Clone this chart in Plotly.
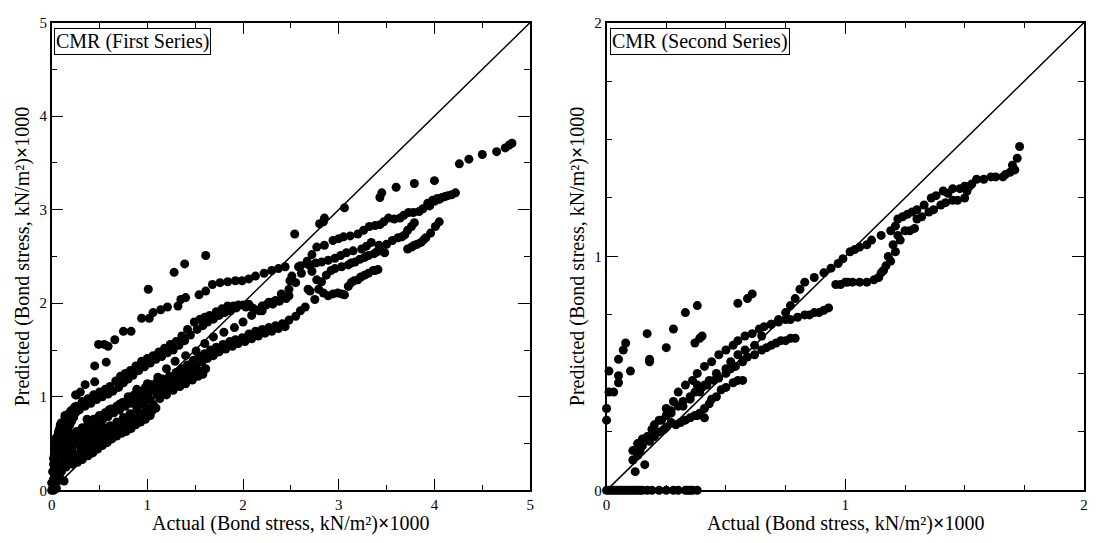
import plotly.graph_objects as go

# ---------------- Data: CMR (First Series) ----------------
s1_origin_x = [0.00,0.01,0.02,0.00,0.02,0.03,0.01,0.04,0.02,0.05,0.03,0.06,0.04,0.07,0.05,0.08,0.06,0.10,0.08,0.12,0.10,0.14,0.02,0.05,0.06,0.08,0.10,0.09,0.12,0.14,0.16,0.13,0.04,0.07,0.03,0.09,0.11]
s1_origin_y = [0.00,0.02,0.05,0.08,0.12,0.16,0.20,0.24,0.28,0.30,0.35,0.38,0.42,0.45,0.50,0.52,0.58,0.60,0.65,0.68,0.72,0.78,0.00,0.02,0.10,0.15,0.20,0.26,0.30,0.36,0.40,0.10,0.55,0.62,0.45,0.70,0.50]
s1_origin2_x = [0.02,0.04,0.06,0.08,0.10,0.12,0.14,0.16,0.18,0.20,0.22,0.24,0.03,0.05,0.07,0.09,0.11,0.13,0.15,0.17,0.19,0.21,0.23,0.25,0.28,0.31,0.34]
s1_origin2_y = [0.34,0.40,0.47,0.55,0.62,0.68,0.74,0.77,0.80,0.84,0.86,0.89,0.25,0.33,0.39,0.44,0.51,0.56,0.60,0.65,0.70,0.74,0.78,0.83,0.87,0.92,0.94]

s1_top_x = [0.05,0.10,0.14,0.18,0.25,0.26,0.30,0.35,0.37,0.44,0.45,0.45,0.49,0.49,0.55,0.57,0.59,0.66,0.75,0.83,0.94,1.01,1.02,1.06,1.14,1.21,1.28,1.32,1.35,1.39,1.40,1.54,1.61,1.61,1.68,1.76,1.84,1.92,1.99,2.06,2.13,2.22,2.30,2.37,2.44,2.54,2.80,2.84,2.85,3.06,3.43,3.45,3.60,3.79,4.00,4.26,4.36,4.50,4.65,4.74,4.78,4.81]
s1_top_y = [0.55,0.70,0.80,0.82,1.02,1.02,1.05,1.13,0.76,1.02,1.16,1.33,1.56,0.78,1.56,1.37,1.54,1.61,1.70,1.70,1.84,2.15,1.84,1.90,1.93,1.96,2.33,1.97,2.04,2.42,2.06,2.09,2.13,2.51,2.20,2.22,2.23,2.24,2.24,2.26,2.29,2.32,2.35,2.37,2.39,2.74,2.85,2.87,2.91,3.02,3.13,3.18,3.24,3.28,3.31,3.49,3.54,3.59,3.62,3.66,3.69,3.71]

s1_low1_x = [0.10,0.15,0.20,0.25,0.30,0.35,0.40,0.45,0.50,0.55,0.60,0.65,0.70,0.75,0.80,0.85,0.90,0.95,1.00,1.05,1.09,0.12,0.18,0.24,0.30,0.36,0.42,0.48,0.54]
s1_low1_y = [0.20,0.25,0.30,0.33,0.36,0.39,0.43,0.46,0.50,0.54,0.58,0.61,0.64,0.66,0.69,0.72,0.76,0.79,0.82,0.85,0.88,0.30,0.34,0.38,0.41,0.45,0.49,0.53,0.57]
s1_low1b_x = [0.22,0.27,0.32,0.38,0.43,0.48,0.53,0.58,0.63,0.68,0.73,0.78,0.83,0.88,0.93,0.98,1.03]
s1_low1b_y = [0.28,0.30,0.33,0.37,0.40,0.44,0.48,0.51,0.55,0.58,0.61,0.63,0.66,0.70,0.73,0.76,0.80]

s1_low2_x = [0.12,0.18,0.25,0.33,0.40,0.47,0.54,0.61,0.68,0.75,0.82,0.89,0.96,1.03,1.10,1.17,1.24,1.31,1.37,1.44,1.51,1.56,1.61]
s1_low2_y = [0.45,0.48,0.52,0.56,0.60,0.64,0.67,0.69,0.73,0.78,0.82,0.87,0.92,0.97,1.02,1.06,1.10,1.15,1.18,1.21,1.25,1.27,1.30]
s1_low2b_x = [0.15,0.21,0.29,0.36,0.43,0.50,0.57,0.64,0.71,0.78,0.85,0.92,0.99,1.06,1.13,1.20,1.27,1.34,1.40,1.47,1.53,1.58]
s1_low2b_y = [0.40,0.44,0.48,0.52,0.56,0.60,0.63,0.66,0.70,0.74,0.78,0.83,0.88,0.92,0.98,1.02,1.07,1.11,1.14,1.18,1.22,1.24]

s1_mid3_x = [0.10,0.14,0.16,0.20,0.26,0.32,0.38,0.44,0.50,0.56,0.61,0.67,0.72,0.77,0.82,0.88,0.94,1.00,1.06,1.12,1.18,1.24,1.30,1.36,1.42,1.49,1.55,1.60,1.65,1.72,1.78,1.84,1.90,1.95,2.00,2.06,2.13,2.20,2.27,2.34,2.41,2.48]
s1_mid3_y = [0.62,0.72,0.80,0.85,0.90,0.95,0.98,1.02,1.05,1.08,1.11,1.17,1.22,1.25,1.28,1.33,1.38,1.41,1.44,1.48,1.52,1.56,1.59,1.65,1.72,1.80,1.83,1.85,1.87,1.91,1.94,1.97,1.97,1.98,1.98,1.99,1.93,1.97,2.01,2.03,2.06,2.08]
s1_mid3b_x = [0.13,0.18,0.23,0.29,0.35,0.41,0.47,0.53,0.59,0.64,0.70,0.75,0.80,0.85,0.91,0.97,1.03,1.09,1.15,1.21,1.27,1.33,1.39,1.45,1.52,1.58,1.63,1.69,1.75,1.81,1.87,1.93,2.03,2.10,2.17,2.24,2.31,2.38,2.45]
s1_mid3b_y = [0.66,0.78,0.82,0.86,0.90,0.93,0.97,1.00,1.03,1.06,1.10,1.15,1.19,1.23,1.28,1.32,1.36,1.40,1.43,1.47,1.50,1.55,1.60,1.66,1.72,1.76,1.80,1.83,1.87,1.90,1.92,1.95,1.96,1.95,1.92,1.98,1.99,2.02,2.05]

s1_mid4_x = [0.16,0.22,0.26,0.32,0.38,0.44,0.50,0.56,0.62,0.68,0.74,0.80,0.86,0.92,0.98,1.04,1.10,1.16,1.23,1.30,1.36,1.42,1.48,1.54,1.60,1.66,1.72,1.79,1.86,1.92,1.99,2.06,2.13,2.20,2.27,2.34,2.41,2.48]
s1_mid4_y = [0.56,0.60,0.63,0.67,0.72,0.76,0.80,0.83,0.87,0.90,0.94,0.98,1.02,1.06,1.10,1.13,1.16,1.19,1.22,1.26,1.30,1.34,1.39,1.43,1.46,1.50,1.53,1.56,1.59,1.61,1.63,1.67,1.70,1.72,1.74,1.76,1.78,1.82]
s1_mid4b_x = [0.19,0.24,0.29,0.35,0.41,0.47,0.53,0.59,0.65,0.71,0.77,0.83,0.89,0.95,1.01,1.07,1.13,1.19,1.26,1.33,1.39,1.45,1.51,1.57,1.63,1.69,1.75,1.82,1.89,1.95,2.02,2.09,2.16,2.23,2.30,2.37,2.44]
s1_mid4b_y = [0.52,0.56,0.60,0.63,0.67,0.71,0.75,0.79,0.83,0.86,0.90,0.93,0.96,1.00,1.04,1.07,1.11,1.14,1.18,1.21,1.25,1.29,1.33,1.37,1.41,1.44,1.48,1.51,1.54,1.57,1.59,1.62,1.65,1.68,1.70,1.73,1.75]

s1_mid5_x = [0.40,0.51,0.60,0.71,0.80,0.89,1.00,1.11,1.20,1.29,1.40,1.51,1.60,1.69,1.80,1.91,2.00,2.09,2.20,2.31,2.40,2.49,2.60]
s1_mid5_y = [0.70,0.79,0.86,0.92,1.00,1.08,1.14,1.21,1.30,1.38,1.44,1.49,1.57,1.64,1.69,1.74,1.80,1.87,1.92,2.01,2.10,2.24,2.40]

s1_r2_x = [2.48,2.51,2.58,2.67,2.72,2.77,2.94,3.05,3.20,3.32,3.43,3.52,3.64,3.73,3.84,3.88,3.93,3.98,4.03,4.08,4.14,4.22]
s1_r2_y = [2.15,2.29,2.39,2.45,2.52,2.60,2.67,2.71,2.74,2.82,2.84,2.91,2.91,2.97,2.98,3.01,3.07,3.10,3.12,3.13,3.15,3.18]
s1_r2b_x = [2.85,3.00,3.12,3.26,3.38,3.47,3.58,3.68,3.78,3.95,4.00,4.05,4.11,4.18]
s1_r2b_y = [2.62,2.69,2.72,2.78,2.83,2.87,2.90,2.94,2.97,3.04,3.09,3.11,3.14,3.16]

s1_r3_x = [2.55,2.61,2.67,2.82,2.96,3.08,3.24,3.34,3.50,3.62,3.69,3.76,3.79]
s1_r3_y = [2.22,2.32,2.42,2.44,2.48,2.54,2.58,2.65,2.63,2.70,2.73,2.82,2.86]
s1_r3b_x = [2.70,2.76,2.89,3.02,3.15,3.29,3.42,3.56,3.66,3.72]
s1_r3b_y = [2.40,2.43,2.46,2.51,2.56,2.61,2.62,2.67,2.71,2.78]

s1_r4_x = [2.68,2.72,2.77,2.82,2.87,2.96,3.10,3.17,3.27,3.37,3.44,3.48,2.92,3.03,3.13,3.22,3.31,3.40]
s1_r4_y = [2.15,2.34,2.25,2.23,2.30,2.37,2.41,2.44,2.49,2.53,2.56,2.54,2.35,2.39,2.43,2.47,2.51,2.55]

s1_r5_x = [3.72,3.76,3.79,3.82,3.86,3.89,3.91,3.96,4.01,4.05]
s1_r5_y = [2.58,2.60,2.62,2.63,2.65,2.68,2.70,2.75,2.82,2.87]

s1_r6_x = [2.55,2.65,2.70,2.75,2.79,2.89,2.99,3.06,3.13,3.20,3.27,3.36,3.41,2.60,2.84,2.94,3.03,3.10,3.16,3.23,3.31,3.38]
s1_r6_y = [1.86,1.96,2.13,2.04,2.15,2.08,2.11,2.09,2.22,2.25,2.30,2.35,2.36,1.92,2.11,2.10,2.10,2.18,2.24,2.28,2.32,2.35]

# ---------------- Data: CMR (Second Series) ----------------
s2_zero_x = [0.00,0.01,0.02,0.03,0.04,0.05,0.06,0.07,0.08,0.09,0.10,0.11,0.12,0.13,0.14,0.15,0.17,0.19,0.22,0.25,0.28,0.30,0.33,0.34,0.35,0.36,0.38]
s2_zero_y = [0.00,0.00,0.00,0.00,0.00,0.00,0.00,0.00,0.00,0.00,0.00,0.00,0.00,0.00,0.00,0.00,0.00,0.00,0.00,0.00,0.00,0.00,0.00,0.00,0.00,0.00,0.00]

s2_sparse_x = [0.00,0.00,0.01,0.03,0.01,0.05,0.05,0.05,0.07,0.08,0.10,0.18,0.18,0.17,0.25,0.28,0.33,0.38,0.37,0.39,0.40,0.38,0.55,0.59,0.61]
s2_sparse_y = [0.30,0.35,0.42,0.42,0.51,0.46,0.49,0.56,0.60,0.63,0.51,0.55,0.56,0.67,0.61,0.69,0.76,0.79,0.63,0.65,0.66,0.45,0.80,0.82,0.84]

s2_b1_x = [0.11,0.15,0.23,0.32,0.39,0.43,0.50,0.55,0.62,0.69,0.75,0.79,0.83,0.91,0.97,1.02,1.06,1.11,1.19,1.22,1.26,1.30,1.36,1.41,1.45,1.50,1.55,1.61,1.66,1.69,1.70,1.72,1.73]
s2_b1_y = [0.17,0.22,0.30,0.36,0.42,0.47,0.52,0.58,0.62,0.71,0.76,0.82,0.89,0.93,0.97,1.02,1.04,1.07,1.11,1.16,1.18,1.20,1.25,1.28,1.29,1.30,1.33,1.34,1.34,1.36,1.39,1.42,1.47]
s2_b1b_x = [0.13,0.19,0.27,0.35,0.41,0.46,0.52,0.58,0.65,0.72,0.77,0.81,0.87,0.94,0.99,1.04,1.09,1.15,1.21,1.24,1.28,1.33,1.38,1.43,1.48,1.53,1.58,1.63,1.67,1.71]
s2_b1b_y = [0.20,0.26,0.33,0.39,0.45,0.50,0.55,0.60,0.66,0.73,0.79,0.86,0.91,0.95,0.99,1.03,1.05,1.09,1.13,1.17,1.19,1.22,1.26,1.27,1.29,1.31,1.33,1.34,1.35,1.37]

s2_b2_x = [0.96,1.00,1.03,1.09,1.14,1.15,1.17,1.18,1.20,1.22,1.25,1.29,1.30,1.35,1.40,1.45,1.50,1.51,1.52,0.98,1.01,1.06,1.12,1.16,1.19,1.21,1.23,1.27,1.32,1.37,1.42,1.47]
s2_b2_y = [0.88,0.89,0.89,0.89,0.91,0.93,0.96,1.00,1.05,1.09,1.11,1.12,1.16,1.19,1.22,1.24,1.25,1.28,1.30,0.88,0.89,0.89,0.90,0.94,0.98,1.02,1.07,1.11,1.17,1.20,1.23,1.24]

s2_b3_x = [0.25,0.30,0.36,0.41,0.47,0.53,0.58,0.64,0.69,0.75,0.80,0.83,0.87,0.89,0.93,0.28,0.33,0.38,0.44,0.50,0.55,0.61,0.66,0.72,0.77,0.85,0.91]
s2_b3_y = [0.35,0.42,0.47,0.53,0.58,0.62,0.66,0.69,0.71,0.73,0.74,0.75,0.76,0.76,0.78,0.38,0.45,0.50,0.55,0.60,0.64,0.67,0.70,0.72,0.73,0.75,0.77]

s2_b4_x = [0.20,0.25,0.30,0.35,0.40,0.45,0.50,0.54,0.59,0.65,0.69,0.73,0.75,0.79,0.22,0.27,0.32,0.37,0.42,0.47,0.52,0.57,0.62,0.67,0.71,0.77]
s2_b4_y = [0.28,0.32,0.36,0.40,0.44,0.47,0.50,0.53,0.57,0.60,0.62,0.64,0.64,0.65,0.30,0.34,0.38,0.42,0.45,0.48,0.52,0.55,0.58,0.61,0.63,0.65]

s2_b5_x = [0.11,0.12,0.14,0.16,0.18,0.22,0.25,0.29,0.33,0.37,0.38,0.41,0.41,0.46,0.48,0.53,0.57,0.13,0.15,0.17,0.20,0.24,0.27,0.31,0.35,0.39,0.43,0.44,0.50,0.55]
s2_b5_y = [0.13,0.08,0.17,0.11,0.21,0.25,0.27,0.28,0.30,0.32,0.32,0.35,0.31,0.40,0.43,0.46,0.47,0.15,0.19,0.23,0.23,0.26,0.29,0.29,0.31,0.33,0.37,0.39,0.44,0.47]

diag_first = [0, 5]
diag_second = [0, 2]

# tick labels
ticks_first = [0, 1, 2, 3, 4, 5]
ticks_second = [0, 1, 2]

first_x = (s1_origin_x + s1_origin2_x + s1_top_x + s1_low1_x + s1_low1b_x + s1_low2_x + s1_low2b_x
           + s1_mid3_x + s1_mid3b_x + s1_mid4_x + s1_mid4b_x + s1_mid5_x
           + s1_r2_x + s1_r2b_x + s1_r3_x + s1_r3b_x + s1_r4_x + s1_r5_x + s1_r6_x)
first_y = (s1_origin_y + s1_origin2_y + s1_top_y + s1_low1_y + s1_low1b_y + s1_low2_y + s1_low2b_y
           + s1_mid3_y + s1_mid3b_y + s1_mid4_y + s1_mid4b_y + s1_mid5_y
           + s1_r2_y + s1_r2b_y + s1_r3_y + s1_r3b_y + s1_r4_y + s1_r5_y + s1_r6_y)
second_x = s2_zero_x + s2_sparse_x + s2_b1_x + s2_b1b_x + s2_b2_x + s2_b3_x + s2_b4_x + s2_b5_x
second_y = s2_zero_y + s2_sparse_y + s2_b1_y + s2_b1b_y + s2_b2_y + s2_b3_y + s2_b4_y + s2_b5_y
assert len(first_x) == len(first_y) and len(second_x) == len(second_y)

FONT = "Liberation Serif"
marker = dict(color="black", size=9, line=dict(width=0))

fig = go.Figure()
fig.add_trace(go.Scatter(x=diag_first, y=diag_first, mode="lines",
                         line=dict(color="black", width=1.5), xaxis="x", yaxis="y", showlegend=False))
fig.add_trace(go.Scatter(x=first_x, y=first_y, mode="markers", marker=marker,
                         xaxis="x", yaxis="y", showlegend=False, cliponaxis=False))
fig.add_trace(go.Scatter(x=diag_second, y=diag_second, mode="lines",
                         line=dict(color="black", width=1.5), xaxis="x2", yaxis="y2", showlegend=False))
fig.add_trace(go.Scatter(x=second_x, y=second_y, mode="markers", marker=marker,
                         xaxis="x2", yaxis="y2", showlegend=False, cliponaxis=False))

W, H = 1097, 543
def ax(rng, ticks, minor_dt, domain, anchor):
    return dict(range=rng, domain=domain, anchor=anchor, tickvals=ticks,
                showline=True, linecolor="black", linewidth=1.5, mirror="ticks",
                ticks="inside", ticklen=12, tickwidth=1.2, tickcolor="black",
                showgrid=False, zeroline=False,
                tickfont=dict(family=FONT, size=15, color="black"),
                minor=dict(ticks="inside", ticklen=6, tickwidth=1.2, tickcolor="black",
                           dtick=minor_dt, showgrid=False))

xt = "Actual (Bond stress, kN/m²)<b>×</b>1000"
yt = "Predicted (Bond stress, kN/m²)<b>×</b>1000"
xd1 = [48 / W, 530 / W]
xd2 = [607 / W, 1088 / W]
yd = [(H - 497) / H, (H - 15) / H]
ymid = (yd[0] + yd[1]) / 2

def title_ann(text, x, y, angle=0):
    return dict(text=text, xref="paper", yref="paper", x=x, y=y, xanchor="center",
                yanchor="middle", showarrow=False, textangle=angle,
                font=dict(family=FONT, size=20, color="black"))

def box_ann(text, x):
    return dict(text=text, xref="paper", yref="paper",
                x=x, y=(H - 21) / H, xanchor="left", yanchor="top", showarrow=False,
                font=dict(family=FONT, size=20, color="black"), bgcolor="white",
                bordercolor="black", borderwidth=1, borderpad=1)

fig.update_layout(
    width=W, height=H, margin=dict(l=0, r=0, t=0, b=0),
    paper_bgcolor="white", plot_bgcolor="white",
    xaxis=ax([0, 5], ticks_first, 0.5, xd1, "y"),
    yaxis=ax([0, 5], ticks_first, 0.5, yd, "x"),
    xaxis2=ax([0, 2], ticks_second, 0.25, xd2, "y2"),
    yaxis2=ax([0, 2], ticks_second, 0.25, yd, "x2"),
    annotations=[
        box_ann("CMR (First Series)", 50 / W),
        box_ann("CMR (Second Series)", 610 / W),
        title_ann(xt, (xd1[0] + xd1[1]) / 2, (H - 531) / H),
        title_ann(xt, (xd2[0] + xd2[1]) / 2, (H - 531) / H),
        title_ann(yt, 19 / W, ymid, -90),
        title_ann(yt, 578 / W, ymid, -90),
    ],
)

fig.write_html("out.html")
